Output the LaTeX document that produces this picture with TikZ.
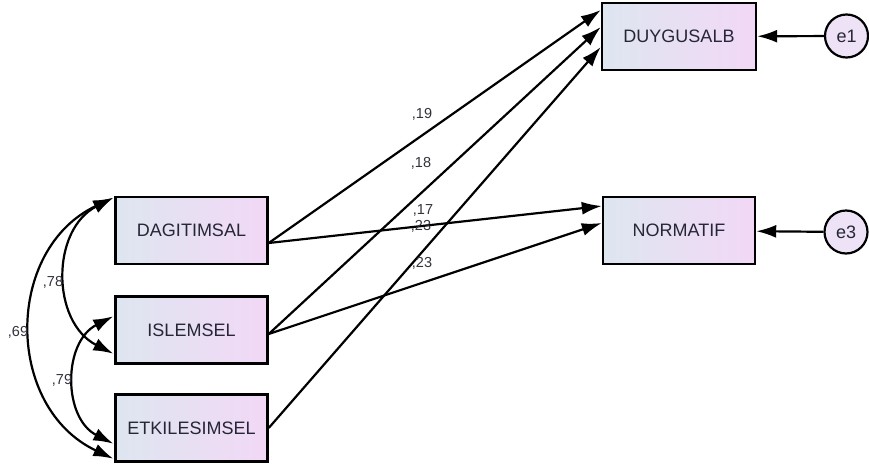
\documentclass[tikz,border=0pt]{standalone}
\usepackage{fontspec}
\setmainfont{Liberation Sans}
\usetikzlibrary{arrows.meta,calc}
\definecolor{boxleft}{RGB}{222,230,240}
\definecolor{boxright}{RGB}{242,216,246}
\definecolor{errfill}{RGB}{238,226,246}
\definecolor{txt}{RGB}{38,38,54}
\definecolor{numtxt}{RGB}{50,50,60}
\tikzset{
  var/.style={draw=black, line width=2.4pt, minimum width=152pt, minimum height=67pt,
    inner sep=0pt, left color=boxleft, right color=boxright, text=txt,
    font=\fontsize{18}{21}\selectfont},
  err/.style={draw=black, line width=2.2pt, circle, minimum size=43pt, inner sep=0pt,
    fill=errfill, text=txt, font=\fontsize{18}{21}\selectfont},
  path/.style={line width=2.2pt, -{Latex[length=20pt,width=13pt]}},
  cov/.style={line width=2.2pt, {Latex[length=20pt,width=13pt]}-{Latex[length=20pt,width=13pt]}},
  coef/.style={text=numtxt, inner sep=0pt, font=\fontsize{14.5}{16}\selectfont},
}
\begin{document}
\begin{tikzpicture}[x=1pt,y=-1pt]
\useasboundingbox (0,0) rectangle (869,466);

% observed variables
\node[var] (dag) at (191.5,230.5) {DAGITIMSAL};
\node[var] (isl) at (191.5,330) {ISLEMSEL};
\node[var] (etk) at (191.5,428) {ETKILESIMSEL};
\node[var, minimum width=154pt] (duy) at (679,36.5) {DUYGUSALB};
\node[var] (nor) at (679,230.5) {NORMATIF};

% error terms
\node[err] (e1) at (846.5,36) {e1};
\node[err] (e3) at (846,232) {e3};

\draw[path] (e1) -- (duy);
\draw[path] (e3) -- (nor);

% regression paths
\draw[path] ($(dag.east)+(0,12.5)$) -- ($(duy.west)+(0,-26.5)$);
\draw[path] ($(dag.east)+(0,12.5)$) -- ($(nor.west)+(0,-24.5)$);
\draw[path] ($(isl.east)+(0,4)$) -- ($(duy.west)+(0,-9.5)$);
\draw[path] ($(isl.east)+(0,4)$) -- ($(nor.west)+(0,-7.5)$);
\draw[path] (etk.east) -- ($(duy.west)+(0,10.5)$);

% covariances
\draw[cov] ($(dag.north west)+(-1,2)$) .. controls +(-62.4,31.8) and +(-62.4,-31.8) .. ($(isl.south west)+(-1,-11)$);
\draw[cov] ($(dag.north west)+(-1,2)$) .. controls +(-109,51.3) and +(-109,-51.3) .. ($(etk.south west)+(-1,-4)$);
\draw[cov] ($(isl.north west)+(-1,21)$) .. controls +(-50.6,25.8) and +(-50.6,-25.8) .. ($(etk.south west)+(-1,-19)$);

% coefficients
\node[coef] (c1) at (422,114) {,19};
\node[coef] (c2) at (421,163) {,18};
\node[coef] (c3) at (423,210) {,17};
\node[coef] (c4) at (421,226) {,23};
\node[coef] (c5) at (422,263) {,23};
\node[coef] (c6) at (53,282) {,78};
\node[coef] (c7) at (18,332) {,69};
\node[coef] (c8) at (62,380) {,79};
\end{tikzpicture}
\end{document}
